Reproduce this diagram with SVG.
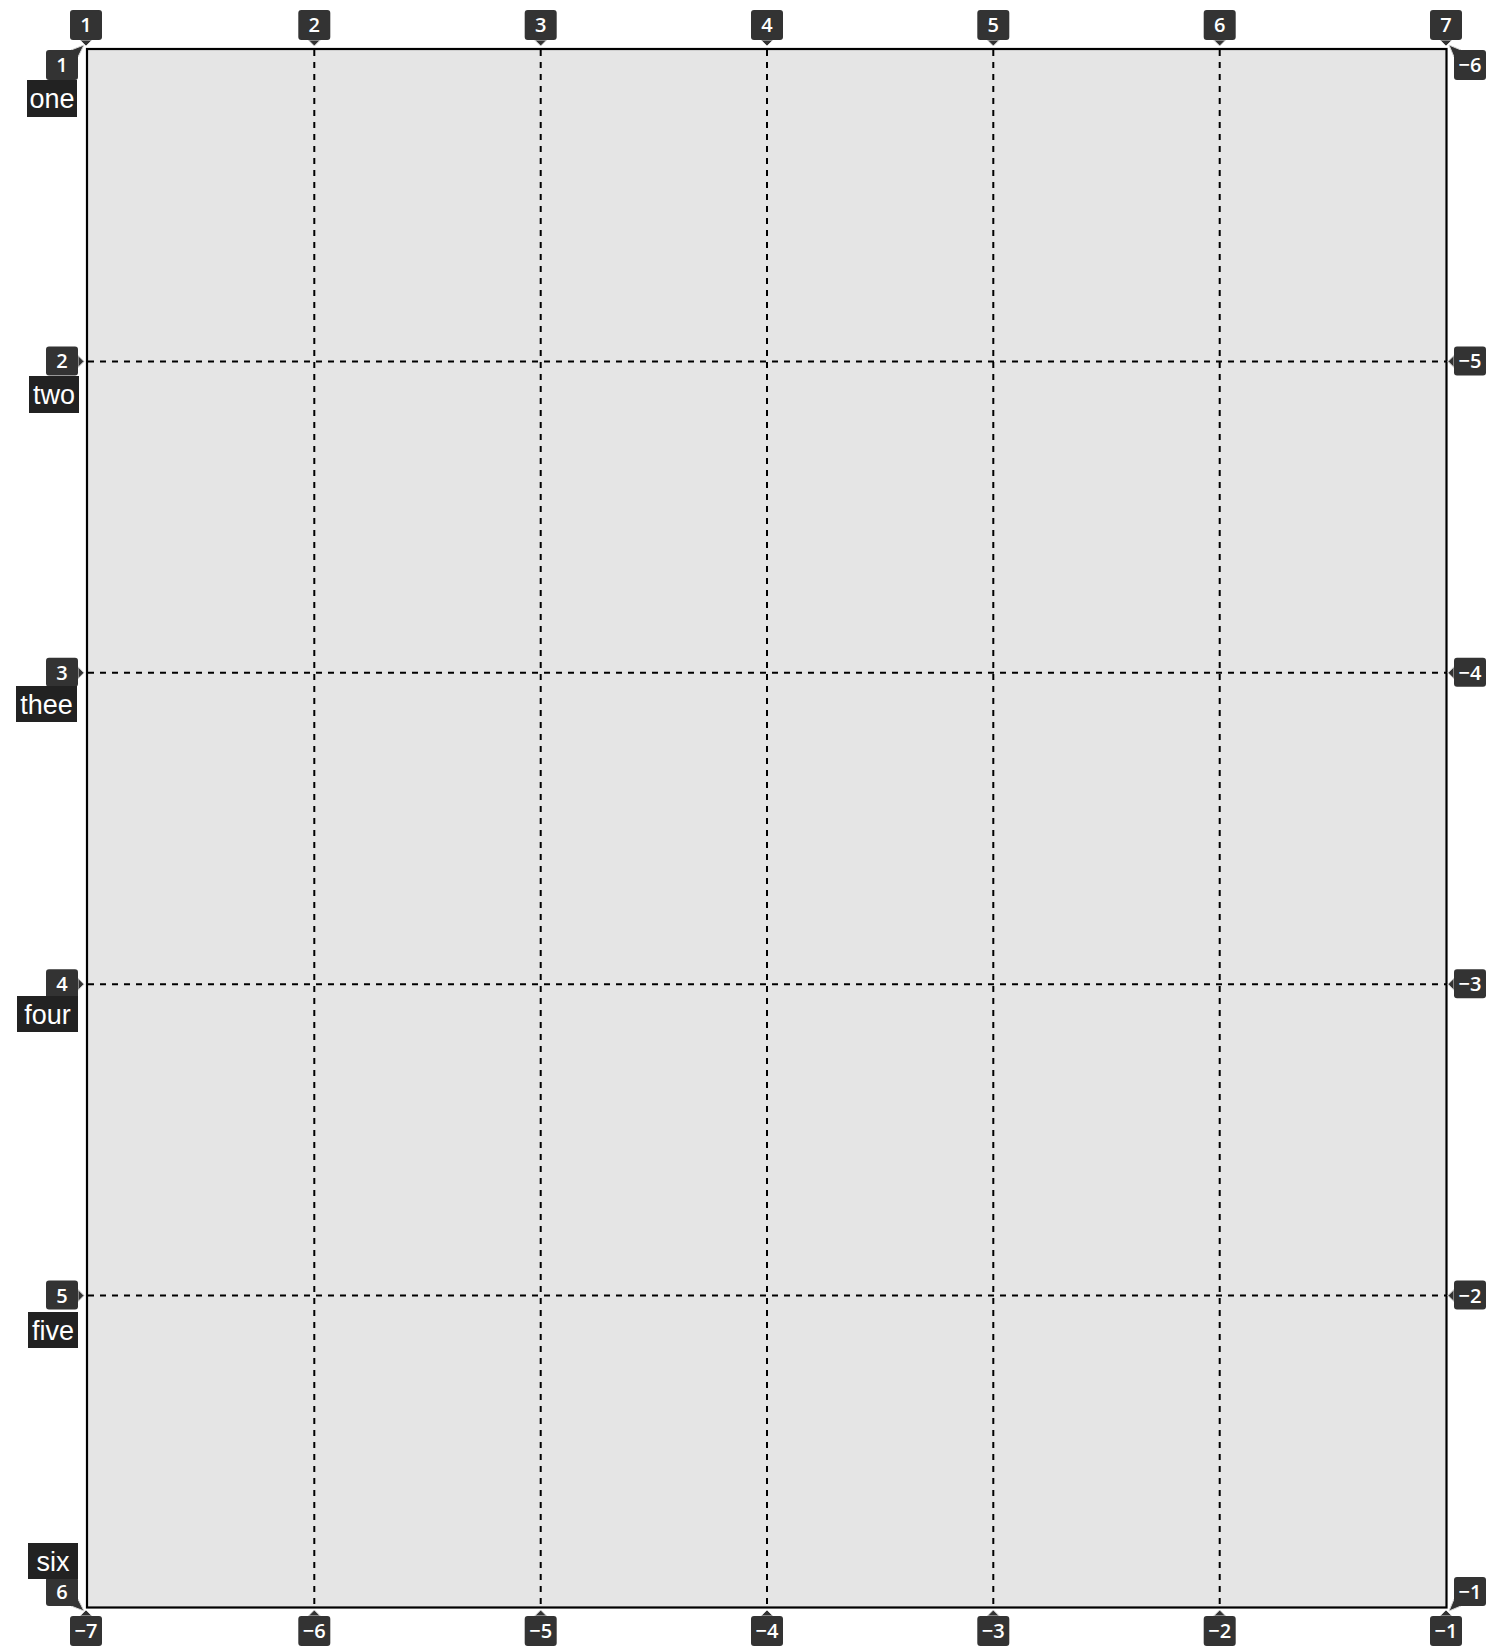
<svg xmlns="http://www.w3.org/2000/svg" width="1492" height="1646" viewBox="0 0 1492 1646">
<style>
.num rect, .num polygon { fill: #333333; }
.num polygon { stroke: #d8d8d8; stroke-width: 1; }
.num text { fill: #ffffff; font-family: "Open Sans", "Noto Sans", "DejaVu Sans", sans-serif; font-weight: 600; font-size: 20px; text-anchor: middle; }
.name rect { fill: #222222; }
.name text { fill: #ffffff; font-family: "Liberation Sans", Arial, sans-serif; font-size: 27px; text-anchor: middle; }
.grid { stroke: #000; stroke-width: 2; stroke-dasharray: 6 6; fill: none; }
</style>
<rect width="1492" height="1646" fill="#ffffff"/>
<g id="container">
  <rect x="87" y="49" width="1359.5" height="1558.5" fill="#e5e5e5" stroke="#000" stroke-width="2.2"/>
</g>
<g id="connectors">
  <line class="grid" x1="314.3" y1="50" x2="314.3" y2="1607"/>
  <line class="grid" x1="540.7" y1="50" x2="540.7" y2="1607"/>
  <line class="grid" x1="767" y1="50" x2="767" y2="1607"/>
  <line class="grid" x1="993.3" y1="50" x2="993.3" y2="1607"/>
  <line class="grid" x1="1219.7" y1="50" x2="1219.7" y2="1607"/>
  <line class="grid" x1="88" y1="361.4" x2="1446" y2="361.4"/>
  <line class="grid" x1="88" y1="672.8" x2="1446" y2="672.8"/>
  <line class="grid" x1="88" y1="984.2" x2="1446" y2="984.2"/>
  <line class="grid" x1="88" y1="1295.6" x2="1446" y2="1295.6"/>
</g>
<!-- top column labels -->
<g id="col-top-1" class="num"><polygon points="80,40 86,46 92,40"/><rect x="70" y="10" width="32" height="30" rx="3"/><text x="86" y="32">1</text></g>
<g id="col-top-2" class="num"><polygon points="308.3,40 314.3,46 320.3,40"/><rect x="298.3" y="10" width="32" height="30" rx="3"/><text x="314.3" y="32">2</text></g>
<g id="col-top-3" class="num"><polygon points="534.7,40 540.7,46 546.7,40"/><rect x="524.7" y="10" width="32" height="30" rx="3"/><text x="540.7" y="32">3</text></g>
<g id="col-top-4" class="num"><polygon points="761,40 767,46 773,40"/><rect x="751" y="10" width="32" height="30" rx="3"/><text x="767" y="32">4</text></g>
<g id="col-top-5" class="num"><polygon points="987.3,40 993.3,46 999.3,40"/><rect x="977.3" y="10" width="32" height="30" rx="3"/><text x="993.3" y="32">5</text></g>
<g id="col-top-6" class="num"><polygon points="1213.7,40 1219.7,46 1225.7,40"/><rect x="1203.7" y="10" width="32" height="30" rx="3"/><text x="1219.7" y="32">6</text></g>
<g id="col-top-7" class="num"><polygon points="1440,40 1446,46 1452,40"/><rect x="1430" y="10" width="32" height="30" rx="3"/><text x="1446" y="32">7</text></g>
<!-- bottom column labels -->
<g id="col-bot-7" class="num"><polygon points="80,1616 86,1610 92,1616"/><rect x="70" y="1616" width="32" height="30" rx="3"/><text x="86" y="1638">−7</text></g>
<g id="col-bot-6" class="num"><polygon points="308.3,1616 314.3,1610 320.3,1616"/><rect x="298.3" y="1616" width="32" height="30" rx="3"/><text x="314.3" y="1638">−6</text></g>
<g id="col-bot-5" class="num"><polygon points="534.7,1616 540.7,1610 546.7,1616"/><rect x="524.7" y="1616" width="32" height="30" rx="3"/><text x="540.7" y="1638">−5</text></g>
<g id="col-bot-4" class="num"><polygon points="761,1616 767,1610 773,1616"/><rect x="751" y="1616" width="32" height="30" rx="3"/><text x="767" y="1638">−4</text></g>
<g id="col-bot-3" class="num"><polygon points="987.3,1616 993.3,1610 999.3,1616"/><rect x="977.3" y="1616" width="32" height="30" rx="3"/><text x="993.3" y="1638">−3</text></g>
<g id="col-bot-2" class="num"><polygon points="1213.7,1616 1219.7,1610 1225.7,1616"/><rect x="1203.7" y="1616" width="32" height="30" rx="3"/><text x="1219.7" y="1638">−2</text></g>
<g id="col-bot-1" class="num"><polygon points="1440,1616 1446,1610 1452,1616"/><rect x="1430" y="1616" width="32" height="30" rx="3"/><text x="1446" y="1638">−1</text></g>
<!-- left row labels -->
<g id="row-left-1" class="num"><polygon points="71,50 84,45 78,57"/><rect x="46" y="50" width="32" height="30" rx="3"/><text x="62" y="72">1</text></g>
<g id="row-left-2" class="num"><polygon points="78,355.4 84,361.4 78,367.4"/><rect x="46" y="346.4" width="32" height="29" rx="3"/><text x="62" y="368">2</text></g>
<g id="row-left-3" class="num"><polygon points="78,666.8 84,672.8 78,678.8"/><rect x="46" y="657.8" width="32" height="29" rx="3"/><text x="62" y="679.5">3</text></g>
<g id="row-left-4" class="num"><polygon points="78,978.2 84,984.2 78,990.2"/><rect x="46" y="969.2" width="32" height="29" rx="3"/><text x="62" y="991">4</text></g>
<g id="row-left-5" class="num"><polygon points="78,1289.6 84,1295.6 78,1301.6"/><rect x="46" y="1280.6" width="32" height="29" rx="3"/><text x="62" y="1302.5">5</text></g>
<g id="row-left-6" class="num"><polygon points="78,1599 84,1611 71,1606"/><rect x="46" y="1577" width="32" height="29" rx="3"/><text x="62" y="1599">6</text></g>
<!-- right row labels -->
<g id="row-right-6" class="num"><polygon points="1454,57 1449,45 1461,50"/><rect x="1454" y="50" width="32" height="30" rx="3"/><text x="1470" y="72">−6</text></g>
<g id="row-right-5" class="num"><polygon points="1454,355.4 1448,361.4 1454,367.4"/><rect x="1454" y="346.4" width="32" height="29" rx="3"/><text x="1470" y="368">−5</text></g>
<g id="row-right-4" class="num"><polygon points="1454,666.8 1448,672.8 1454,678.8"/><rect x="1454" y="657.8" width="32" height="29" rx="3"/><text x="1470" y="679.5">−4</text></g>
<g id="row-right-3" class="num"><polygon points="1454,978.2 1448,984.2 1454,990.2"/><rect x="1454" y="969.2" width="32" height="29" rx="3"/><text x="1470" y="991">−3</text></g>
<g id="row-right-2" class="num"><polygon points="1454,1289.6 1448,1295.6 1454,1301.6"/><rect x="1454" y="1280.6" width="32" height="29" rx="3"/><text x="1470" y="1302.5">−2</text></g>
<g id="row-right-1" class="num"><polygon points="1454,1599 1449,1611 1461,1606"/><rect x="1454" y="1577" width="32" height="29" rx="3"/><text x="1470" y="1599">−1</text></g>
<!-- row names -->
<g id="name-one" class="name"><rect x="27" y="80" width="50" height="37"/><text x="52" y="108">one</text></g>
<g id="name-two" class="name"><rect x="29" y="376" width="50" height="37"/><text x="54" y="404">two</text></g>
<g id="name-thee" class="name"><rect x="16" y="686" width="61" height="36"/><text x="46.5" y="713.5">thee</text></g>
<g id="name-four" class="name"><rect x="17" y="996" width="61" height="36"/><text x="47.5" y="1023.5">four</text></g>
<g id="name-five" class="name"><rect x="28" y="1312" width="50" height="36"/><text x="53" y="1339.5">five</text></g>
<g id="name-six" class="name"><rect x="28" y="1543" width="50" height="36"/><text x="53" y="1570.5">six</text></g>
</svg>
